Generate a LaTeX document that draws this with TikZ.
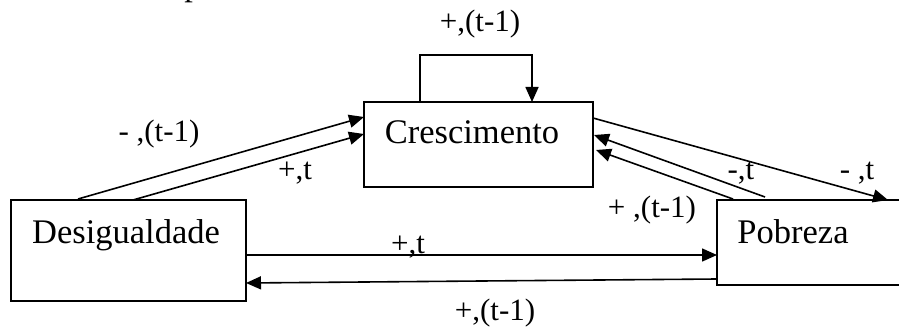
\documentclass[tikz,border=0pt]{standalone}
\usepackage{fontspec}
\setmainfont{Liberation Serif}
\usetikzlibrary{arrows.meta}
\begin{document}
\begin{tikzpicture}[x=1pt,y=-1pt,
  box/.style={draw,line width=1.6pt,minimum width=#1,inner sep=0pt,outer sep=0pt},
  conn/.style={line width=1.6pt,-{Triangle[length=15pt,width=13pt]}},
  big/.style={font=\fontsize{34.5}{40}\selectfont,anchor=base,inner sep=0pt},
  lab/.style={font=\fontsize{31}{36}\selectfont,anchor=base,inner sep=0pt}]
\useasboundingbox (0,0) rectangle (899,331);
\clip (0,0) rectangle (899,331);
% boxes
\node[box=235pt,minimum height=101pt,anchor=north west] (D) at (11,200) {};
\node[box=229pt,minimum height=85pt,anchor=north west] (C) at (364,102) {};
\node[box=200pt,minimum height=85pt,anchor=north west] (P) at (717,200) {};
% box texts
\node[big] (Dt) at (126,243) {Desigualdade};
\node[big] (Ct) at (472,144) {Crescimento};
\node[big] (Pt) at (793,243) {Pobreza};
% cut-off text at top
\node[big] (cut) at (193,-4) {p};
% self loop
\coordinate (L1) at (420,55);
\coordinate (L2) at (532,55);
\draw[conn] ([xshift=56pt]C.north west) -- (L1) -- (L2) -- ([xshift=168pt]C.north west);
% Desigualdade -> Crescimento
\draw[conn] ([xshift=67pt,yshift=1pt]D.north west) -- ([yshift=-15pt]C.north west);
\draw[conn] ([xshift=122pt]D.north west) -- ([yshift=-32pt]C.north west);
% Crescimento -> Pobreza
\draw[conn] ([yshift=-16pt]C.north east) -- ([xshift=171pt]P.north west);
% Pobreza -> Crescimento
\draw[conn] ([xshift=48pt,yshift=3pt]P.north west) -- ([xshift=1pt,yshift=-33pt]C.north east);
\draw[conn] ([xshift=16pt,yshift=1pt]P.north west) -- ([xshift=3pt,yshift=-48pt]C.north east);
% Desigualdade -> Pobreza
\draw[conn] ([yshift=-55pt]D.north east) -- ([yshift=-55pt]P.north west);
% Pobreza -> Desigualdade
\draw[conn] ([yshift=-79pt]P.north west) -- ([yshift=-83pt]D.north east);
% labels
\node[lab] (l1) at (480,32) {+,(t-1)};
\node[lab] (l2) at (159,142) {- ,(t-1)};
\node[lab] (l3) at (295,180) {+,t};
\node[lab] (l4) at (408,253) {+,t};
\node[lab] (l5) at (741,180) {-,t};
\node[lab] (l6) at (857,180) {- ,t};
\node[lab] (l7) at (652,217) {+ ,(t-1)};
\node[lab] (l8) at (495,320) {+,(t-1)};
\end{tikzpicture}
\end{document}
